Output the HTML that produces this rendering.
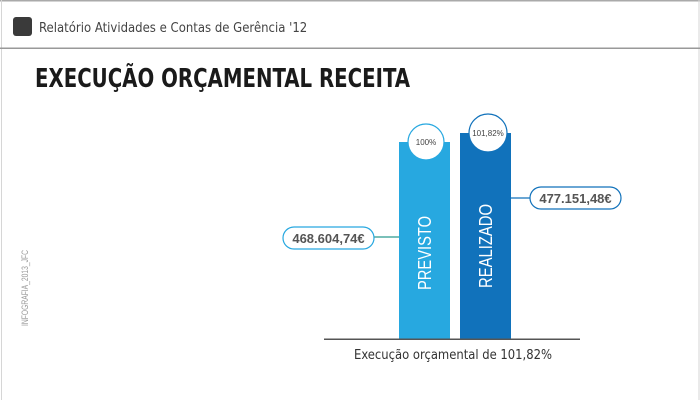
<!DOCTYPE html>
<html><head><meta charset="utf-8"><style>
body{margin:0;width:700px;height:400px;background:#fff;overflow:hidden;font-family:"Liberation Sans","DejaVu Sans",sans-serif;}
</style></head><body>
<svg width="700" height="400" xmlns="http://www.w3.org/2000/svg" style="position:absolute;left:0;top:0">
<rect x="0" y="0" width="700" height="1.5" fill="#aaa"/>
<rect x="1" y="0" width="1" height="400" fill="#d6d6d6"/>
<rect x="698.5" y="0" width="1" height="400" fill="#d6d6d6"/>
<rect x="0" y="47.5" width="700" height="1.5" fill="#999"/>
<rect x="13" y="17" width="19" height="19" rx="3" fill="#3a3a3a"/>
<text x="39" y="32" font-size="13" fill="#444" font-family="DejaVu Sans Condensed, Liberation Sans, sans-serif" style="font-stretch:condensed">Relatório Atividades e Contas de Gerência '12</text>
<text x="35" y="87" font-size="26" font-weight="bold" fill="#1a1a1a" font-family="DejaVu Sans, sans-serif" style="font-stretch:condensed" textLength="375" lengthAdjust="spacingAndGlyphs">EXECUÇÃO ORÇAMENTAL RECEITA</text>
<text transform="translate(28,326) rotate(-90)" font-size="9" fill="#999" textLength="76" lengthAdjust="spacingAndGlyphs">INFOGRAFIA_2013_JFC</text>
<rect x="399" y="142" width="51" height="197" fill="#27a8e0"/>
<rect x="460" y="133" width="51" height="206" fill="#1172bb"/>
<rect x="324" y="338.5" width="256" height="1.5" fill="#555"/>
<text transform="translate(431,290) rotate(-90)" font-size="18" fill="#fff" textLength="74" lengthAdjust="spacingAndGlyphs">PREVISTO</text>
<text transform="translate(492,288) rotate(-90)" font-size="18" fill="#fff" textLength="84" lengthAdjust="spacingAndGlyphs">REALIZADO</text>
<circle cx="426" cy="142" r="18" fill="#fff" stroke="#27a8e0" stroke-width="1.2"/>
<text x="426" y="145" font-size="8" fill="#444" text-anchor="middle">100%</text>
<circle cx="488" cy="133" r="19" fill="#fff" stroke="#1172bb" stroke-width="1.2"/>
<text x="488" y="136" font-size="8" fill="#444" text-anchor="middle">101,82%</text>
<line x1="374" y1="237" x2="399" y2="237" stroke="#2a9b8f" stroke-width="1.2"/>
<rect x="283" y="227" width="91" height="22" rx="11" fill="#fff" stroke="#27a8e0" stroke-width="1.2"/>
<text x="328.5" y="243" font-size="13" font-weight="bold" fill="#555" text-anchor="middle">468.604,74€</text>
<line x1="511" y1="198" x2="530" y2="198" stroke="#1172bb" stroke-width="1.2"/>
<rect x="530" y="187" width="91" height="22" rx="11" fill="#fff" stroke="#1172bb" stroke-width="1.2"/>
<text x="575.5" y="203" font-size="13" font-weight="bold" fill="#555" text-anchor="middle">477.151,48€</text>
<text x="453" y="359" font-size="13" fill="#333" text-anchor="middle" font-family="DejaVu Sans, sans-serif" style="font-stretch:condensed" textLength="198" lengthAdjust="spacingAndGlyphs">Execução orçamental de 101,82%</text>
</svg>
</body></html>
